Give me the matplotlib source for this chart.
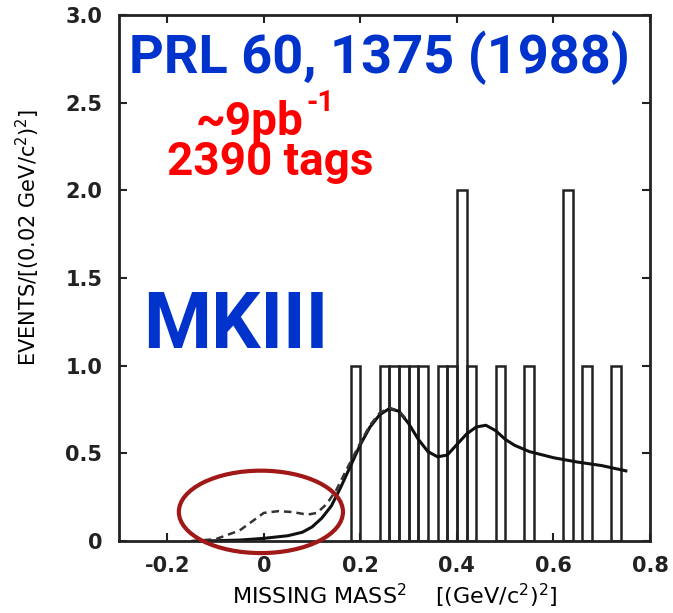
import numpy as np
import matplotlib.pyplot as plt
from matplotlib.patches import Ellipse

# histogram: bin left edges (width 0.02) and counts
bin_left = [0.18, 0.24, 0.26, 0.28, 0.30, 0.32, 0.36, 0.38, 0.40, 0.42,
            0.48, 0.54, 0.62, 0.66, 0.72]
counts = [1, 1, 1, 1, 1, 1, 1, 1, 2, 1, 1, 1, 2, 1, 1]
bin_w = 0.02

# solid fit curve
fit_x = [-0.12, -0.05, 0.0, 0.05, 0.08, 0.10, 0.12, 0.14, 0.16, 0.18, 0.20,
         0.22, 0.24, 0.26, 0.28, 0.30, 0.32, 0.34, 0.36, 0.38, 0.40, 0.42,
         0.44, 0.46, 0.48, 0.50, 0.52, 0.55, 0.60, 0.65, 0.70, 0.75]
fit_y = [0.0, 0.005, 0.015, 0.03, 0.05, 0.08, 0.13, 0.20, 0.31, 0.43, 0.55,
         0.65, 0.72, 0.755, 0.74, 0.67, 0.58, 0.51, 0.48, 0.49, 0.55, 0.61,
         0.65, 0.66, 0.63, 0.58, 0.545, 0.51, 0.475, 0.45, 0.43, 0.40]

# dashed curve (with signal)
sig_x = [-0.15, -0.10, -0.05, -0.02, 0.0, 0.03, 0.06, 0.09, 0.11, 0.13,
         0.15, 0.17, 0.20, 0.22, 0.24, 0.26, 0.28, 0.30]
sig_y = [0.0, 0.01, 0.06, 0.12, 0.16, 0.17, 0.165, 0.15, 0.16, 0.21,
         0.29, 0.40, 0.56, 0.66, 0.73, 0.76, 0.74, 0.68]

xticks = [-0.2, 0, 0.2, 0.4, 0.6, 0.8]
xtick_labels = ['-0.2', '0', '0.2', '0.4', '0.6', '0.8']
yticks = [0, 0.5, 1.0, 1.5, 2.0, 2.5, 3.0]
ytick_labels = ['0', '0.5', '1.0', '1.5', '2.0', '2.5', '3.0']

fig = plt.figure(figsize=(6.73, 6.13), dpi=100)
ax = fig.add_axes([0.1768, 0.1175, 0.789, 0.858])

ax.bar(bin_left, counts, width=bin_w, align='edge', fill=False,
       edgecolor='#222222', linewidth=1.8)
ax.plot(fit_x, fit_y, color='#111111', lw=2.2)
ax.plot(sig_x, sig_y, color='#333333', lw=1.8, ls=(0, (3, 2)))

ell = Ellipse((-0.006, 0.166), 0.34, 0.47, fill=False, edgecolor='#a01818',
              lw=3, clip_on=False, zorder=5)
ax.add_patch(ell)

ax.set_xlim(-0.30, 0.80)
ax.set_ylim(0, 3.0)
ax.set_xticks(xticks)
ax.set_xticklabels(xtick_labels)
ax.set_yticks(yticks)
ax.set_yticklabels(ytick_labels)
ax.tick_params(direction='in', length=6, width=1.5, top=True, right=True,
               labelsize=15, colors='#222222')
ax.tick_params(axis='x', pad=11)
ax.tick_params(axis='y', pad=12)
for lab in ax.get_xticklabels() + ax.get_yticklabels():
    lab.set_fontweight('bold')
for sp in ax.spines.values():
    sp.set_linewidth(2)
    sp.set_color('#222222')

ax.set_ylabel('EVENTS/[(0.02 GeV/c$^2$)$^2$]', fontsize=15)
ax.yaxis.set_label_coords(-0.145, 0.578)
ax.set_xlabel('MISSING MASS$^2$    [(GeV/c$^2$)$^2$]', fontsize=16)
ax.xaxis.set_label_coords(0.52, -0.078)

ov = ['Roboto', 'DejaVu Sans']
ax.text(0.49, 0.918, 'PRL 60, 1375 (1988)', transform=ax.transAxes,
        ha='center', va='center', fontsize=39, fontweight='bold',
        color='#0033cc', family=ov)
ax.text(0.145, 0.772, '~9pb', transform=ax.transAxes,
        ha='left', va='baseline', fontsize=33, fontweight='bold',
        color='#ff0000', family=ov)
ax.text(0.352, 0.818, '-1', transform=ax.transAxes,
        ha='left', va='baseline', fontsize=21, fontweight='bold',
        color='#ff0000', family=ov)
ax.text(0.285, 0.72, '2390 tags', transform=ax.transAxes,
        ha='center', va='center', fontsize=33, fontweight='bold',
        color='#ff0000', family=ov)
ax.text(0.22, 0.407, 'MKIII', transform=ax.transAxes,
        ha='center', va='center', fontsize=56, fontweight='bold',
        color='#0033cc', family=ov)

fig.savefig('out.png', dpi=100)
